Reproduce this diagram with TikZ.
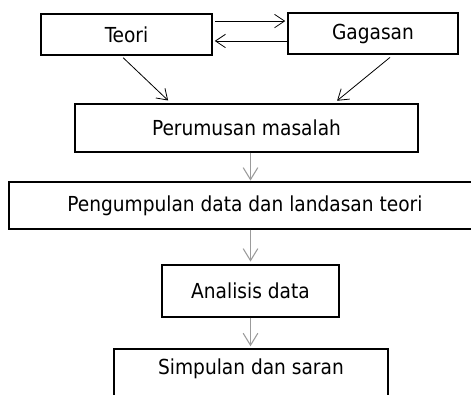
\documentclass[tikz,border=0pt]{standalone}
\usepackage{fontspec}
\setmainfont{DejaVu Sans Condensed}
\usetikzlibrary{arrows.meta}
\definecolor{arrowgray}{RGB}{155,155,155}
\tikzset{
  boxfont/.style={font=\fontsize{15.5}{18}\selectfont},
  box/.style={draw, line width=1.1pt, inner sep=0pt, boxfont},
  barb/.style={-{Straight Barb[length=7.5pt,width=10pt]}, line width=0.6pt},
  graybarb/.style={-{Straight Barb[length=9pt,width=11pt]}, line width=0.8pt, draw=arrowgray}
}
\begin{document}
\begin{tikzpicture}[x=0.75pt,y=0.75pt,yscale=-1,xscale=1]
\useasboundingbox (0,0) rectangle (471,394);
\clip (0,0) rectangle (471,394);

%Shape: Rectangle [Teori]
\draw (126.5,34.5) node [box, minimum width=128.25pt, minimum height=30.75pt] (teori) {Teori};
%Shape: Rectangle [Gagasan]
\draw (373,33.5) node [box, minimum width=127.5pt, minimum height=30.75pt] (gagasan) {Gagasan};
%Shape: Rectangle [Perumusan]
\draw (246.5,128) node [box, minimum width=257.25pt, minimum height=36pt] (perumusan) {Perumusan masalah};
%Shape: Rectangle [Pengumpulan]
\draw (249.5,205.5) node [box, minimum width=360.75pt, minimum height=35.25pt] (pengumpulan) {};
% Text Node
\draw (245,205.5) node [boxfont] (pengtext) {Pengumpulan data dan landasan teori};
%Shape: Rectangle [Analisis]
\draw (250.5,291) node [box, minimum width=132.75pt, minimum height=39pt] (analisis) {Analisis data};
%Shape: Rectangle [Simpulan]
\draw (251,374) node [box, minimum width=205.5pt, minimum height=37.5pt] (simpulan) {};
% Text Node
\draw (251,369) node [boxfont] (simptext) {Simpulan dan saran};

%Straight Lines
\draw [barb, shorten <=2pt, shorten >=1.5pt] ([yshift=-10.1pt]teori.east) -- ([yshift=-10.1pt]teori.east -| gagasan.west);
\draw [barb, shorten >=1.5pt] ([yshift=5.6pt]gagasan.west) -- ([yshift=5.6pt]gagasan.west -| teori.east);

%Straight Lines
\draw [barb, shorten >=3pt] ([xshift=-2.5pt,yshift=1.5pt]teori.south) -- ([xshift=-56.6pt]perumusan.north);
\draw [barb, shorten >=3pt] ([xshift=12.75pt,yshift=2pt]gagasan.south) -- ([xshift=65.6pt]perumusan.north);

%Straight Lines
\draw [graybarb, shorten >=0.5pt] (perumusan.south -| analisis) -- (pengumpulan.north -| analisis);
\draw [graybarb, shorten >=2pt] (pengumpulan.south -| analisis) -- (analisis.north);
\draw [graybarb, shorten >=1.5pt] (analisis.south) -- (simpulan.north -| analisis);

\end{tikzpicture}
\end{document}
